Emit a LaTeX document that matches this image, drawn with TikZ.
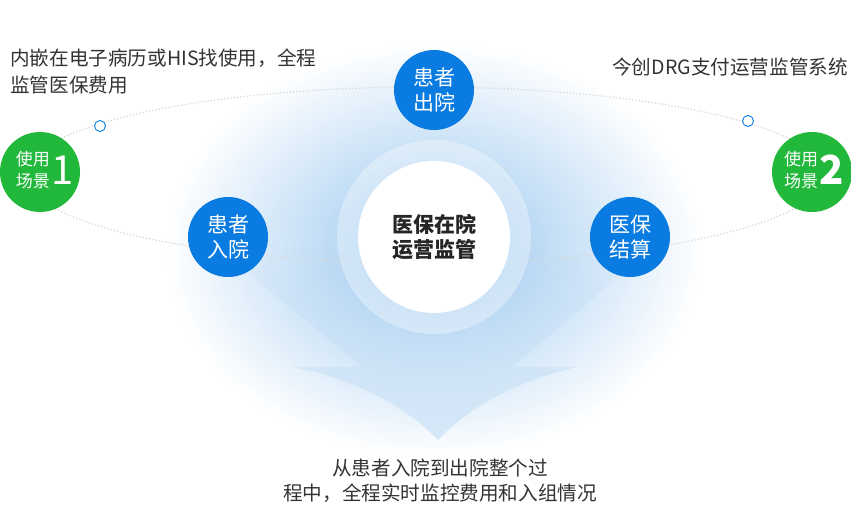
\documentclass[tikz,border=0pt]{standalone}
\usepackage{fontspec}
\setmainfont{Noto Sans CJK SC}
\usetikzlibrary{positioning,fadings}
\usepackage{xcolor}

\definecolor{mainblue}{HTML}{0A7BE0}
\definecolor{scenegreen}{HTML}{22B83B}
\definecolor{glowblue}{HTML}{B3D5F3}
\definecolor{textgray}{HTML}{333333}

\pgfdeclareradialshading{glowshade}{\pgfpoint{0bp}{0bp}}{color(0bp)=(glowblue); color(7bp)=(glowblue); color(25bp)=(white); color(50bp)=(white)}
\tikzfading[name=arrowfade, top color=transparent!100, middle color=transparent!10, bottom color=transparent!0]

\tikzset{
  stage/.style={circle, fill=mainblue, text=white, minimum size=80pt, inner sep=0pt, align=center, font=\fontsize{21}{25}\selectfont},
  scene/.style={circle, fill=scenegreen, minimum size=80pt, inner sep=0pt},
  scenetext/.style={text=white, align=center, inner sep=0pt, font=\fontsize{17}{22}\selectfont},
  marker/.style={circle, draw=mainblue, fill=white, line width=0.9pt, minimum size=11pt, inner sep=0pt},
  note/.style={text=textgray, inner sep=0pt, font=\fontsize{19.6}{27}\selectfont},
}

\begin{document}
\begin{tikzpicture}[x=1pt,y=-1pt]
      \useasboundingbox (0,0) rectangle (851,511);
      % glow and arrow
      \shade[shading=glowshade] (434,250) ellipse [x radius=270, y radius=208];
      \shade[top color=glowblue, bottom color=glowblue!55!white, path fading=arrowfade]
        (220,250) -- (363,367) -- (293,367) .. controls (360,380) and (410,410) .. (438,440)
        .. controls (466,410) and (516,380) .. (578,367) -- (512,367) -- (650,250) -- cycle;

      % orbit
      \draw[gray!30, dotted, line width=1.3pt] (425,175) ellipse [x radius=400, y radius=88];

      \fill[white, opacity=0.35] (434,237) circle (97);
      \node[circle, fill=white, minimum size=152pt, inner sep=0pt, align=center, text=black!85,
            font=\fontsize{21}{25}\selectfont\bfseries] (core) at (434,237) {医保在院\\运营监管};

      \node[stage] (discharge) at (434,90) {患者\\出院};
      \node[stage] (admit) at (228,237) {患者\\入院};
      \node[stage] (settle) at (630,237) {医保\\结算};

      \node[marker] (mark1) at (100,126) {};
      \node[marker] (mark2) at (748,121) {};

      \node[scene] (scene1) at (40,172) {};
      \node[scenetext] (scene1text) at (33,170) {使用\\场景};
      \node[text=white, inner sep=0pt, font=\fontsize{40}{40}\selectfont] (scene1num) at (63,170) {1};

      \node[scene] (scene2) at (812,172) {};
      \node[scenetext] (scene2text) at (801,170) {使用\\场景};
      \node[text=white, inner sep=0pt, font=\fontsize{40}{40}\selectfont\bfseries] (scene2num) at (832,170) {2};

      \node[note, anchor=north west, align=left] (embednote) at (10,49) {内嵌在电子病历或HIS找使用，全程\\监管医保费用};
      \node[note, anchor=north east] (systemnote) at (848,58) {今创DRG支付运营监管系统};
      \node[note, align=center, font=\fontsize{19.6}{25}\selectfont] (summary) at (440,481) {从患者入院到出院整个过\\程中，全程实时监控费用和入组情况};
    \end{tikzpicture}
\end{document}
